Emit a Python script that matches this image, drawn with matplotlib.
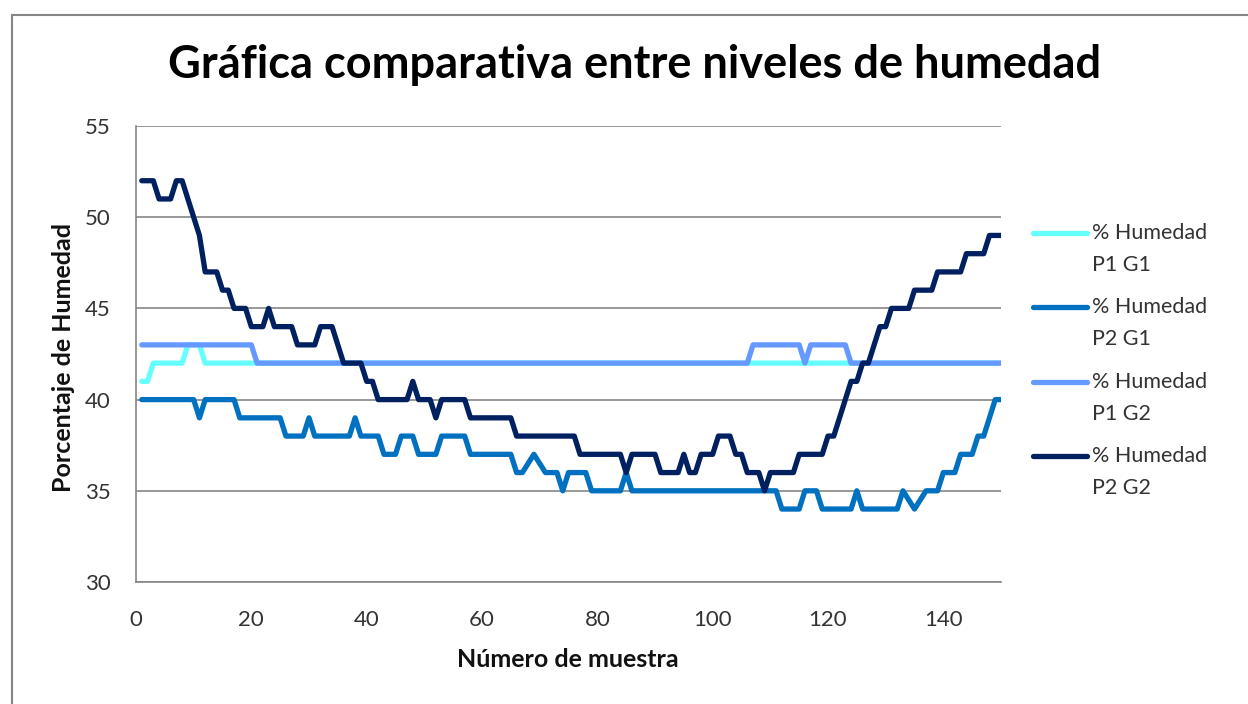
import matplotlib
matplotlib.use("Agg")
import matplotlib.pyplot as plt
import numpy as np
from matplotlib.patches import Rectangle

# ---------------- data ----------------
muestra = list(range(1, 151))

humedad_p1_g1 = [
    41, 41, 42, 42, 42, 42, 42, 42, 43, 43,
    43, 42, 42, 42, 42, 42, 42, 42, 42, 42,
    42, 42, 42, 42, 42, 42, 42, 42, 42, 42,
    42, 42, 42, 42, 42, 42, 42, 42, 42, 42,
    42, 42, 42, 42, 42, 42, 42, 42, 42, 42,
    42, 42, 42, 42, 42, 42, 42, 42, 42, 42,
    42, 42, 42, 42, 42, 42, 42, 42, 42, 42,
    42, 42, 42, 42, 42, 42, 42, 42, 42, 42,
    42, 42, 42, 42, 42, 42, 42, 42, 42, 42,
    42, 42, 42, 42, 42, 42, 42, 42, 42, 42,
    42, 42, 42, 42, 42, 42, 42, 42, 42, 42,
    42, 42, 42, 42, 42, 42, 42, 42, 42, 42,
    42, 42, 42, 42, 42, 42, 42, 42, 42, 42,
    42, 42, 42, 42, 42, 42, 42, 42, 42, 42,
    42, 42, 42, 42, 42, 42, 42, 42, 42, 42,
]

humedad_p2_g1 = [
    40, 40, 40, 40, 40, 40, 40, 40, 40, 40,
    39, 40, 40, 40, 40, 40, 40, 39, 39, 39,
    39, 39, 39, 39, 39, 38, 38, 38, 38, 39,
    38, 38, 38, 38, 38, 38, 38, 39, 38, 38,
    38, 38, 37, 37, 37, 38, 38, 38, 37, 37,
    37, 37, 38, 38, 38, 38, 38, 37, 37, 37,
    37, 37, 37, 37, 37, 36, 36, 36.5, 37, 36.5,
    36, 36, 36, 35, 36, 36, 36, 36, 35, 35,
    35, 35, 35, 35, 36, 35, 35, 35, 35, 35,
    35, 35, 35, 35, 35, 35, 35, 35, 35, 35,
    35, 35, 35, 35, 35, 35, 35, 35, 35, 35,
    35, 34, 34, 34, 34, 35, 35, 35, 34, 34,
    34, 34, 34, 34, 35, 34, 34, 34, 34, 34,
    34, 34, 35, 34.5, 34, 34.5, 35, 35, 35, 36,
    36, 36, 37, 37, 37, 38, 38, 39, 40, 40,
]

humedad_p1_g2 = [
    43, 43, 43, 43, 43, 43, 43, 43, 43, 43,
    43, 43, 43, 43, 43, 43, 43, 43, 43, 43,
    42, 42, 42, 42, 42, 42, 42, 42, 42, 42,
    42, 42, 42, 42, 42, 42, 42, 42, 42, 42,
    42, 42, 42, 42, 42, 42, 42, 42, 42, 42,
    42, 42, 42, 42, 42, 42, 42, 42, 42, 42,
    42, 42, 42, 42, 42, 42, 42, 42, 42, 42,
    42, 42, 42, 42, 42, 42, 42, 42, 42, 42,
    42, 42, 42, 42, 42, 42, 42, 42, 42, 42,
    42, 42, 42, 42, 42, 42, 42, 42, 42, 42,
    42, 42, 42, 42, 42, 42, 43, 43, 43, 43,
    43, 43, 43, 43, 43, 42, 43, 43, 43, 43,
    43, 43, 43, 42, 42, 42, 42, 42, 42, 42,
    42, 42, 42, 42, 42, 42, 42, 42, 42, 42,
    42, 42, 42, 42, 42, 42, 42, 42, 42, 42,
]

humedad_p2_g2 = [
    52, 52, 52, 51, 51, 51, 52, 52, 51, 50,
    49, 47, 47, 47, 46, 46, 45, 45, 45, 44,
    44, 44, 45, 44, 44, 44, 44, 43, 43, 43,
    43, 44, 44, 44, 43, 42, 42, 42, 42, 41,
    41, 40, 40, 40, 40, 40, 40, 41, 40, 40,
    40, 39, 40, 40, 40, 40, 40, 39, 39, 39,
    39, 39, 39, 39, 39, 38, 38, 38, 38, 38,
    38, 38, 38, 38, 38, 38, 37, 37, 37, 37,
    37, 37, 37, 37, 36, 37, 37, 37, 37, 37,
    36, 36, 36, 36, 37, 36, 36, 37, 37, 37,
    38, 38, 38, 37, 37, 36, 36, 36, 35, 36,
    36, 36, 36, 36, 37, 37, 37, 37, 37, 38,
    38, 39, 40, 41, 41, 42, 42, 43, 44, 44,
    45, 45, 45, 45, 46, 46, 46, 46, 47, 47,
    47, 47, 47, 48, 48, 48, 48, 49, 49, 49,
]

series_labels = ["% Humedad\nP1 G1", "% Humedad\nP2 G1",
                 "% Humedad\nP1 G2", "% Humedad\nP2 G2"]
series_colors = ["#66FFFF", "#0070C0", "#6699FF", "#002060"]
x_ticks = [0, 20, 40, 60, 80, 100, 120, 140]
y_ticks = [30, 35, 40, 45, 50, 55]

title = "Gráfica comparativa entre niveles de humedad"
x_label = "Número de muestra"
y_label = "Porcentaje de Humedad"

# ---------------- plot ----------------
plt.rcParams['font.family'] = ['Lato', 'DejaVu Sans']
W, H = 1248, 704
fig = plt.figure(figsize=(W / 100, H / 100), dpi=100)
fig.patch.set_facecolor("white")

# chart border (left and top edges visible)
fig.add_artist(Rectangle((11.5 / W, -0.05), 1.2, 1 - 14.5 / H + 0.05,
                         transform=fig.transFigure, fill=False,
                         edgecolor="#868686", lw=1.5, clip_on=False))

ax = fig.add_axes([136 / W, 1 - 582 / H, (1001 - 136) / W, (582 - 126) / H])

all_series = [humedad_p1_g1, humedad_p2_g1, humedad_p1_g2, humedad_p2_g2]
for vals, lab, col in zip(all_series, series_labels, series_colors):
    ax.plot(muestra, vals, color=col, lw=3.8, label=lab,
            solid_joinstyle="round", solid_capstyle="round", zorder=3)

ax.set_xlim(0, 150)
ax.set_ylim(30, 55)
ax.set_xticks(x_ticks)
ax.set_yticks(y_ticks)
ax.tick_params(axis="both", length=0, labelsize=16, labelcolor="#333333")
ax.tick_params(axis="y", pad=18)
ax.tick_params(axis="x", pad=20)

ax.grid(axis="y", color="#868686", lw=1.2)
ax.set_axisbelow(True)
for s in ["top", "right"]:
    ax.spines[s].set_visible(False)
for s in ["left", "bottom"]:
    ax.spines[s].set_color("#868686")
    ax.spines[s].set_linewidth(1.2)

ax.set_xlabel(x_label, fontsize=18, fontweight="bold", color="#111111")
ax.set_ylabel(y_label, fontsize=18, fontweight="bold", color="#111111")
ax.xaxis.set_label_coords(568 / W, 1 - 648 / H, transform=fig.transFigure)
ax.yaxis.set_label_coords(75 / W, 1 - 358 / H, transform=fig.transFigure)

fig.text(635 / W, 1 - 65 / H, title, fontsize=32.5, fontweight="bold",
         ha="center", va="center", color="#000000")

leg = ax.legend(loc="upper left", bbox_to_anchor=(1033 / W, 1 - 223 / H),
                bbox_transform=fig.transFigure, frameon=False, fontsize=15.5,
                handlelength=2.5, handletextpad=0.25, labelspacing=1.05,
                borderaxespad=0, borderpad=0)
for t in leg.get_texts():
    t.set_color("#333333")
    t.set_linespacing(1.74)

# align each legend line with the first text line of its label
fig.canvas.draw()
for line, txt in zip(leg.legend_handles, leg.get_texts()):
    tb = txt.get_window_extent()
    lb = line.get_window_extent()
    line_center = 0.5 * (lb.y0 + lb.y1)
    target = tb.y1 - 0.19 * tb.height
    delta_pts = (target - line_center) * 72.0 / fig.dpi
    line.set_ydata(np.asarray(line.get_ydata(), dtype=float) + delta_pts)

fig.savefig("out.png", dpi=100, facecolor="white")
